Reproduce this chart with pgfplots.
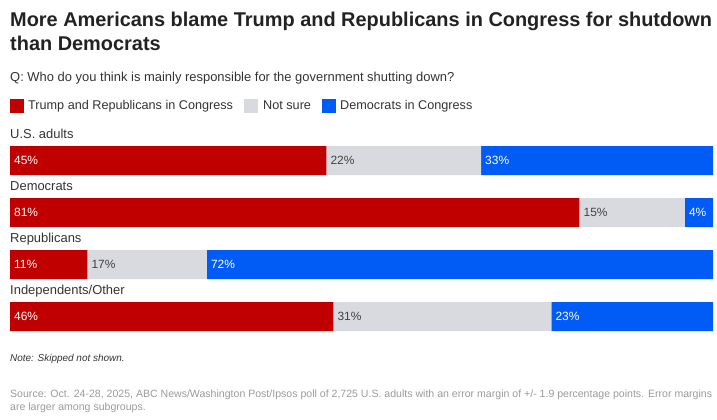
\documentclass[border=0pt]{standalone}
\usepackage{fontspec}
\setmainfont{Liberation Sans}
\usepackage{pgfplots}
\pgfplotsset{compat=1.18}
\definecolor{rep}{HTML}{C00000}
\definecolor{uns}{HTML}{D9D9E0}
\definecolor{dem}{HTML}{005CF5}
\definecolor{ttl}{HTML}{222222}
\definecolor{txt}{HTML}{333333}
\definecolor{src}{HTML}{9A9A9A}
\definecolor{lbl}{HTML}{444444}

\begin{document}
\begin{tikzpicture}[x=1bp,y=1bp,
  vw/.style={anchor=west, inner sep=0, xshift=4bp, text=white, font=\fontsize{12}{14}\selectfont},
  vg/.style={anchor=west, inner sep=0, xshift=4bp, text=lbl, font=\fontsize{12}{14}\selectfont},
  grp/.style={anchor=base west, inner sep=0, text=txt, font=\fontsize{13}{15}\selectfont, yshift=22.5bp}]
\path[use as bounding box] (0,0) rectangle (717,419);

% title and question
\node[anchor=base west, inner sep=0, text=ttl, font=\fontsize{20}{23}\selectfont\bfseries] at (10,392) {More Americans blame Trump and Republicans in Congress for shutdown};
\node[anchor=base west, inner sep=0, text=ttl, font=\fontsize{20}{23}\selectfont\bfseries] at (10,369) {than Democrats};
\node[anchor=base west, inner sep=0, text=txt, font=\fontsize{13}{15}\selectfont] at (10,338) {Q: Who do you think is mainly responsible for the government shutting down?};

% legend
\fill[rep] (10,306) rectangle (24,320);
\node[anchor=base west, inner sep=0, text=txt, font=\fontsize{12.7}{15}\selectfont] at (28,310) {Trump and Republicans in Congress};
\fill[uns] (244,306) rectangle (258,320);
\node[anchor=base west, inner sep=0, text=txt, font=\fontsize{12.7}{15}\selectfont] at (263,310) {Not sure};
\fill[dem] (322,306) rectangle (336,320);
\node[anchor=base west, inner sep=0, text=txt, font=\fontsize{12.7}{15}\selectfont] at (340,310) {Democrats in Congress};

\begin{axis}[
    at={(10bp,284.5bp)}, anchor=north west,
    scale only axis, width=703bp, height=208bp,
    xbar stacked, bar width=29bp,
    xmin=0, xmax=100, ymin=-0.5, ymax=3.5,
    y dir=reverse, hide axis, clip=false,
    every axis plot/.append style={draw=none},
    % stacked bars are drawn at the end, so labels go after them
    after end axis/.code={
      \node[grp] at (axis cs:0,0) {U.S. adults};
      \node[grp] at (axis cs:0,1) {Democrats};
      \node[grp] at (axis cs:0,2) {Republicans};
      \node[grp] at (axis cs:0,3) {Independents/Other};
      \node[vw] at (axis cs:0,0) {45\%};
      \node[vg] at (axis cs:45,0) {22\%};
      \node[vw] at (axis cs:67,0) {33\%};
      \node[vw] at (axis cs:0,1) {81\%};
      \node[vg] at (axis cs:81,1) {15\%};
      \node[vw] at (axis cs:96,1) {4\%};
      \node[vw] at (axis cs:0,2) {11\%};
      \node[vg] at (axis cs:11,2) {17\%};
      \node[vw] at (axis cs:28,2) {72\%};
      \node[vw] at (axis cs:0,3) {46\%};
      \node[vg] at (axis cs:46,3) {31\%};
      \node[vw] at (axis cs:77,3) {23\%};
    },
]
\addplot[fill=rep] coordinates {(45,0) (81,1) (11,2) (46,3)};
\addplot[fill=uns] coordinates {(22,0) (15,1) (17,2) (31,3)};
\addplot[fill=dem] coordinates {(33,0) (4,1) (72,2) (23,3)};
\end{axis}

% notes
\node[anchor=base west, inner sep=0, text=txt, font=\fontsize{10}{12}\selectfont\itshape] at (10,58) {Note: Skipped not shown.};
\node[anchor=base west, inner sep=0, text=src, font=\fontsize{10.6}{13}\selectfont] at (10,22) {Source: Oct. 24-28, 2025, ABC News/Washington Post/Ipsos poll of 2,725 U.S. adults with an error margin of +/- 1.9 percentage points. Error margins};
\node[anchor=base west, inner sep=0, text=src, font=\fontsize{10.6}{13}\selectfont] at (10,9) {are larger among subgroups.};
\end{tikzpicture}
\end{document}
